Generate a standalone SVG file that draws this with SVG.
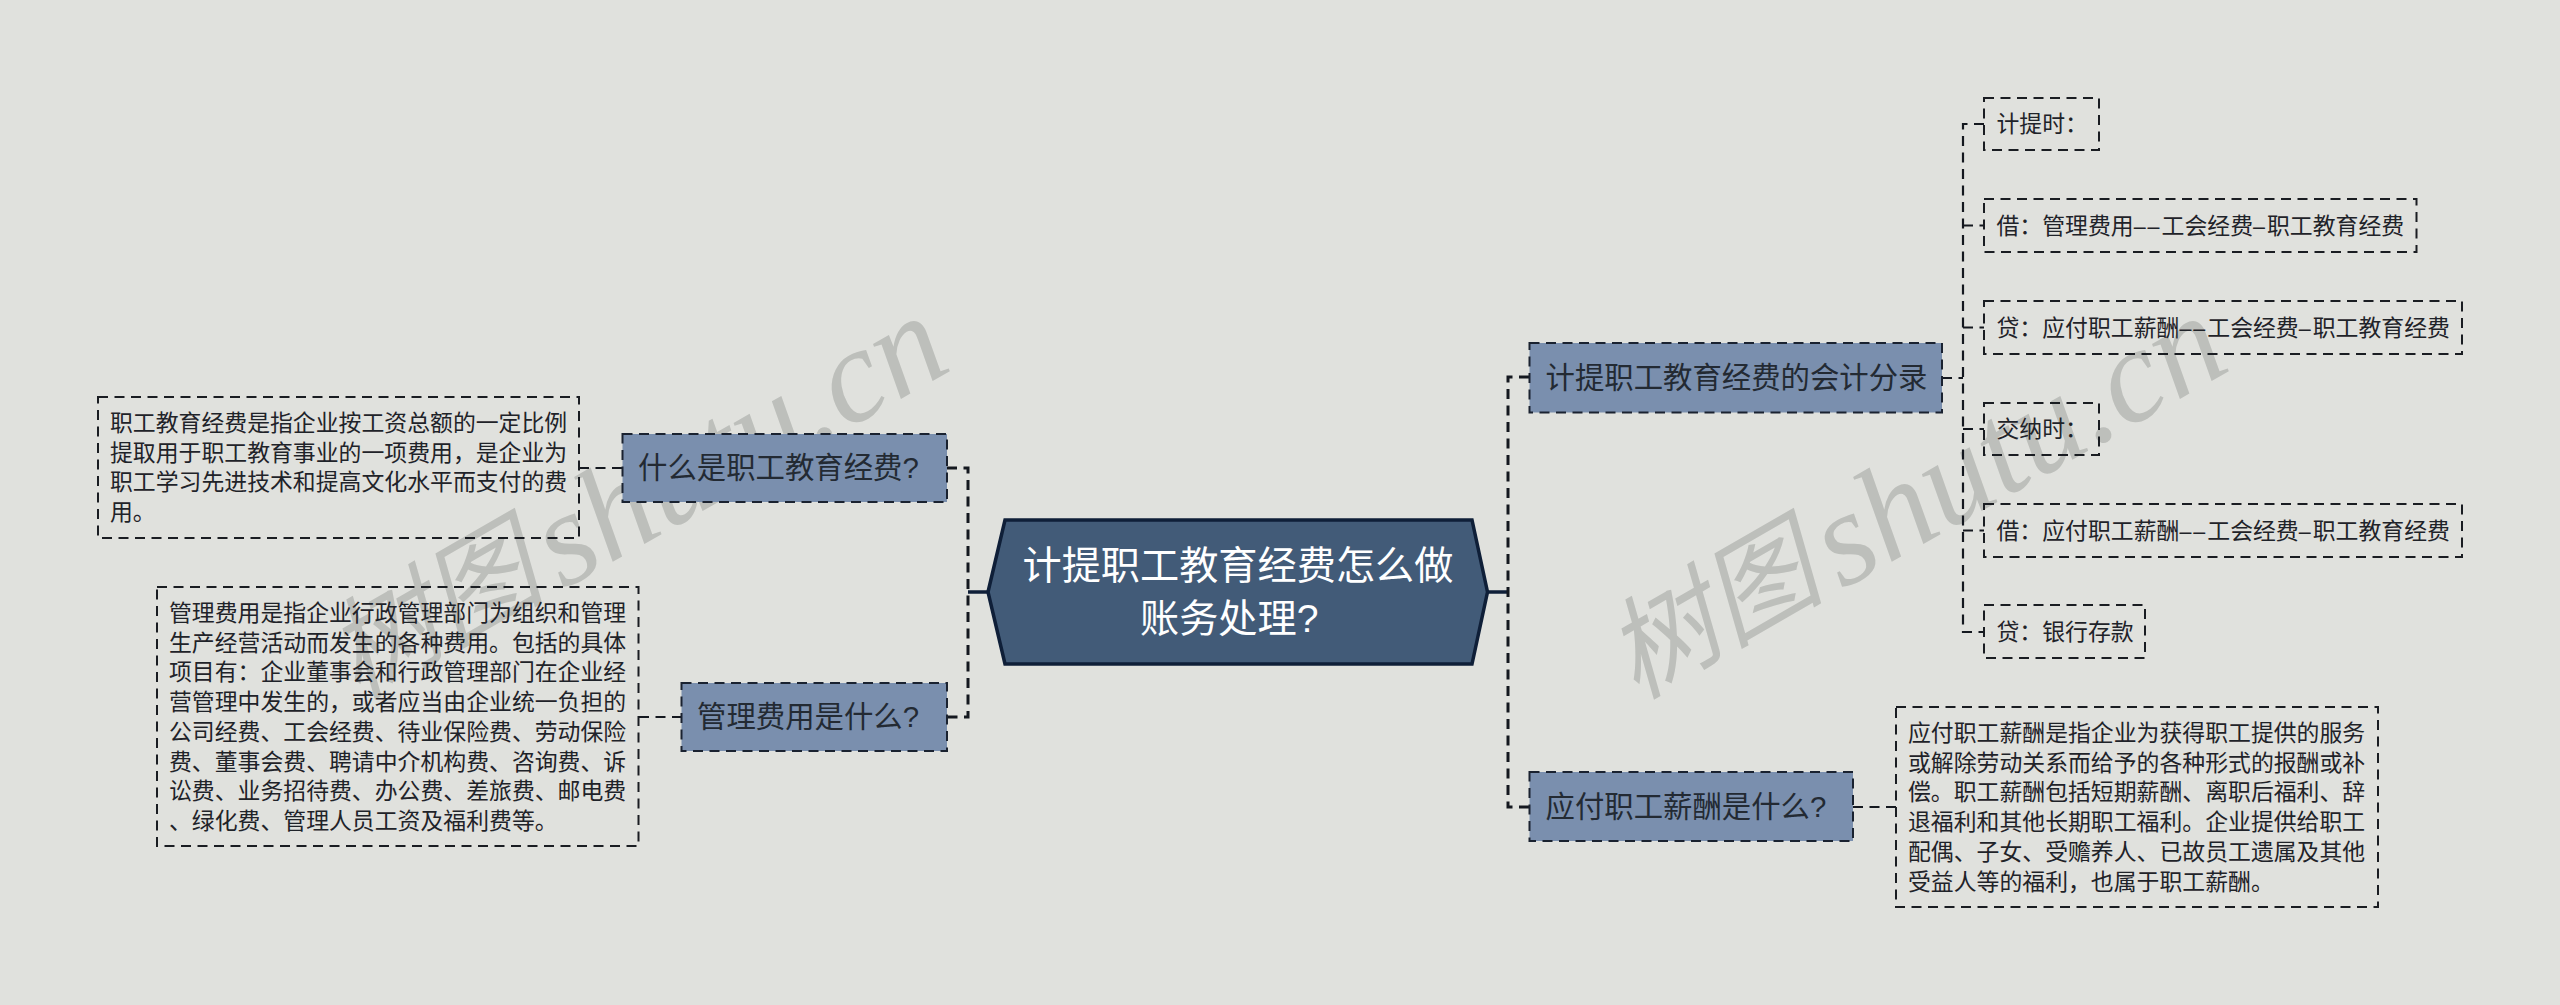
<svg xmlns="http://www.w3.org/2000/svg" width="2560" height="1005" viewBox="0 0 2560 1005">
<style>
text{font-family:"Liberation Sans","Noto Sans CJK SC",sans-serif;fill:#1f2329}
text.wm{font-size:134px;fill:#bdbfbb;font-family:"Liberation Serif",serif;font-style:italic}
text.wc{font-size:110px;fill:#bdbfbb;font-family:"Noto Sans CJK SC",serif;font-style:italic}
.box{fill:none;stroke:#1a1d22;stroke-width:2;stroke-dasharray:10 6.5}
.sub{fill:#7a8fae;stroke:#1a2230;stroke-width:2;stroke-dasharray:10 6.5}
.t14{font-size:22.86px}
.t18{font-size:29.39px;fill:#232a33}
.t24{font-size:39.18px;fill:#fff}
.d{font-size:21.5px;letter-spacing:2px}
.c{fill:none;stroke:#14181f;stroke-width:2.2;stroke-dasharray:10 6.5}
.ct{fill:none;stroke:#14181f;stroke-width:3;stroke-dasharray:10 6.5}
.s{fill:none;stroke:#0f1f38;stroke-width:3.5}
</style>
<rect width="2560" height="1005" fill="#e0e1dd"/>
<g id="watermarks">
<text class="wc" transform="translate(357 700) rotate(-30)">树图</text>
<text class="wm" transform="translate(563 590) rotate(-29.500)">shutu.cn</text>
<text class="wc" transform="translate(1636 700) rotate(-30)">树图</text>
<text class="wm" transform="translate(1842 590) rotate(-29.500)">shutu.cn</text>
</g>
<g id="connectors">
<path class="s" d="M988 592H968M1487 592H1508"/>
<path class="ct" d="M947 468H968V717H947"/>
<path class="ct" d="M1529 377H1508V807H1529"/>
<path class="c" d="M579 468H622M639 717H682M1853 807H1896"/>
<path class="c" d="M1942 378H1963"/>
<path class="c" d="M1984 124H1963V632H1984"/>
<path class="c" d="M1963 225.500H1984M1963 327.500H1984M1963 429H1984M1963 530.500H1984"/>
</g>
<g id="root">
<polygon points="988,592 1005,520 1472,520 1487.500,592 1472,664 1005,664" fill="#425b78" stroke="#0f1f38" stroke-width="3.500"/>
<text class="t24" x="1022.500" y="579">计提职工教育经费怎么做</text>
<text class="t24" x="1140" y="632">账务处理?</text>
</g>
<g id="n-what-edu">
<rect class="sub" x="622.500" y="434" width="324.500" height="68"/>
<text class="t18" x="638" y="478">什么是职工教育经费?</text>
</g>
<g id="n-edu-detail">
<rect class="box" x="98" y="397" width="481" height="141"/>
<text class="t14" x="110" y="431">职工教育经费是指企业按工资总额的一定比例</text>
<text class="t14" x="110" y="460.700">提取用于职工教育事业的一项费用，是企业为</text>
<text class="t14" x="110" y="490.400">职工学习先进技术和提高文化水平而支付的费</text>
<text class="t14" x="110" y="520.100">用。</text>
</g>
<g id="n-what-admin">
<rect class="sub" x="681.500" y="683" width="265.500" height="68"/>
<text class="t18" x="697" y="727">管理费用是什么?</text>
</g>
<g id="n-admin-detail">
<rect class="box" x="157" y="587" width="481.500" height="259"/>
<text class="t14" x="169" y="621">管理费用是指企业行政管理部门为组织和管理</text>
<text class="t14" x="169" y="650.700">生产经营活动而发生的各种费用。包括的具体</text>
<text class="t14" x="169" y="680.400">项目有：企业董事会和行政管理部门在企业经</text>
<text class="t14" x="169" y="710.100">营管理中发生的，或者应当由企业统一负担的</text>
<text class="t14" x="169" y="739.800">公司经费、工会经费、待业保险费、劳动保险</text>
<text class="t14" x="169" y="769.500">费、董事会费、聘请中介机构费、咨询费、诉</text>
<text class="t14" x="169" y="799.200">讼费、业务招待费、办公费、差旅费、邮电费</text>
<text class="t14" x="169" y="828.900">、绿化费、管理人员工资及福利费等。</text>
</g>
<g id="n-entries">
<rect class="sub" x="1529.500" y="343" width="412.500" height="69.500"/>
<text class="t18" x="1545.500" y="388">计提职工教育经费的会计分录</text>
</g>
<g id="n-leaf1">
<rect class="box" x="1984" y="98" width="115" height="52"/>
<text class="t14" x="1996.500" y="132">计提时：</text>
</g>
<g id="n-leaf2">
<rect class="box" x="1984" y="199" width="432.500" height="53"/>
<text class="t14" x="1996.500" y="233.500">借：管理费用<tspan class="d">––</tspan>工会经费<tspan class="d">–</tspan>职工教育经费</text>
</g>
<g id="n-leaf3">
<rect class="box" x="1984" y="301" width="478" height="53"/>
<text class="t14" x="1996.500" y="335.500">贷：应付职工薪酬<tspan class="d">––</tspan>工会经费<tspan class="d">–</tspan>职工教育经费</text>
</g>
<g id="n-leaf4">
<rect class="box" x="1984" y="403" width="115" height="52"/>
<text class="t14" x="1996.500" y="437">交纳时：</text>
</g>
<g id="n-leaf5">
<rect class="box" x="1984" y="504" width="478" height="53"/>
<text class="t14" x="1996.500" y="538.500">借：应付职工薪酬<tspan class="d">––</tspan>工会经费<tspan class="d">–</tspan>职工教育经费</text>
</g>
<g id="n-leaf6">
<rect class="box" x="1984" y="605" width="161" height="53"/>
<text class="t14" x="1996.500" y="639.500">贷：银行存款</text>
</g>
<g id="n-what-pay">
<rect class="sub" x="1529.500" y="772" width="323.500" height="69"/>
<text class="t18" x="1545.500" y="817">应付职工薪酬是什么?</text>
</g>
<g id="n-pay-detail">
<rect class="box" x="1896" y="707" width="482" height="200"/>
<text class="t14" x="1908" y="741">应付职工薪酬是指企业为获得职工提供的服务</text>
<text class="t14" x="1908" y="770.700">或解除劳动关系而给予的各种形式的报酬或补</text>
<text class="t14" x="1908" y="800.400">偿。职工薪酬包括短期薪酬、离职后福利、辞</text>
<text class="t14" x="1908" y="830.100">退福利和其他长期职工福利。企业提供给职工</text>
<text class="t14" x="1908" y="859.800">配偶、子女、受赡养人、已故员工遗属及其他</text>
<text class="t14" x="1908" y="889.500">受益人等的福利，也属于职工薪酬。</text>
</g>
</svg>
